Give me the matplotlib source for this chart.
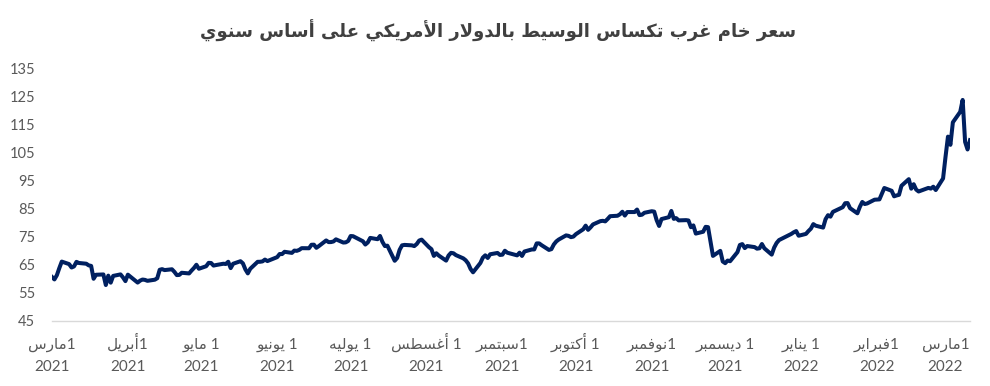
import pandas as pd
import matplotlib
matplotlib.use("Agg")
import matplotlib.pyplot as plt

# WTI daily close, USD/barrel
mar21 = [60.67, 59.79, 61.30, 63.83, 66.13, 65.24, 64.03, 64.41, 66.03, 65.64, 65.38, 64.79,
         64.60, 60.02, 61.45, 61.56, 57.79, 61.14, 58.64, 61.04, 61.58, 60.51, 59.19]
apr21 = [61.49, 58.66, 59.36, 59.75, 59.62, 59.29, 59.69, 60.21, 63.22, 63.45, 63.11, 63.40,
         62.49, 61.33, 61.39, 62.16, 61.92, 62.94, 63.86, 65.01, 63.58]
may21 = [64.49, 65.69, 65.63, 64.71, 64.90, 65.37, 65.28, 66.08, 63.82, 65.37, 66.27, 65.49,
         63.36, 61.94, 63.58, 66.05, 66.07, 66.21, 66.85, 66.32]
jun21 = [67.72, 68.83, 68.81, 69.62, 69.23, 70.05, 69.96, 70.29, 70.91, 70.88, 72.12, 72.15,
         71.04, 71.64, 73.66, 73.06, 73.08, 73.30, 74.05, 72.91, 72.98, 73.47]
jul21 = [75.23, 75.16, 73.37, 72.20, 72.94, 74.56, 74.10, 75.25, 73.13, 71.65, 71.81, 66.42,
         67.42, 70.30, 71.91, 72.07, 71.91, 71.65, 72.39, 73.62, 73.95]
aug21 = [71.26, 70.56, 68.15, 69.09, 68.28, 66.48, 68.29, 69.25, 69.09, 68.44, 67.29, 66.59,
         65.46, 63.50, 62.32, 65.64, 67.54, 68.36, 67.42, 68.74, 69.21, 68.50]
sep21 = [68.59, 69.99, 69.29, 68.35, 69.30, 68.14, 69.72, 70.45, 70.46, 72.61, 72.61, 71.97,
         70.29, 70.56, 72.23, 73.30, 73.98, 75.45, 75.29, 74.83, 75.03]
oct21 = [75.88, 77.62, 78.93, 77.43, 78.30, 79.35, 80.52, 80.64, 80.44, 81.31, 82.28, 82.44,
         82.96, 83.87, 82.50, 83.76, 83.76, 84.65, 82.66, 82.81, 83.50]
nov21 = [84.05, 83.91, 80.86, 78.81, 81.27, 81.93, 84.15, 81.34, 81.59, 80.79, 80.88, 80.76,
         78.36, 79.01, 76.10, 76.75, 78.50, 78.39, 68.15, 69.95, 66.18]
dec21 = [65.57, 66.50, 66.26, 69.49, 72.05, 72.36, 70.94, 71.67, 71.29, 70.73, 70.87, 72.38,
         70.86, 68.61, 71.12, 72.76, 73.79, 75.57, 75.98, 76.56, 76.99, 75.33]
jan22 = [75.99, 76.99, 77.85, 79.46, 78.90, 78.23, 81.22, 82.64, 82.12, 83.82, 85.48, 86.90,
         86.96, 85.14, 83.31, 85.60, 87.35, 86.61, 86.82, 88.15]
feb22 = [88.20, 88.26, 90.27, 92.31, 91.32, 89.36, 89.66, 89.88, 93.10, 95.46, 92.07, 93.66,
         91.76, 91.07, 92.35, 92.10, 92.77, 91.59, 95.72]
mar22 = [103.41, 110.60, 107.67, 115.68, 119.40, 123.64, 108.70, 106.02, 109.33]

holidays = ["2021-04-02", "2021-05-31", "2021-07-05", "2021-09-06", "2021-11-25",
            "2021-12-24", "2022-01-17", "2022-02-21"]

title = "سعر خام غرب تكساس الوسيط بالدولار الأمريكي على أساس سنوي"
month_names = ["مارس", "أبريل", "مايو", "يونيو", "يوليه", "أغسطس", "سبتمبر",
               "أكتوبر", "نوفمبر", "ديسمبر", "يناير", "فبراير", "مارس"]
month_sep = ["", "", " ", " ", " ", " ", "", " ", "", " ", " ", "", ""]
month_years = [2021] * 10 + [2022] * 3
yticks = list(range(45, 136, 10))

prices = mar21 + apr21 + may21 + jun21 + jul21 + aug21 + sep21 + oct21 + nov21 + dec21 + jan22 + feb22 + mar22
dates = pd.bdate_range("2021-03-01", "2022-03-11").drop(pd.to_datetime(holidays))

# --- minimal Arabic shaping (matplotlib does no shaping / bidi) ---
FORMS = {
    'ا': (0xFE8D, 0xFE8E, None, None), 'أ': (0xFE83, 0xFE84, None, None),
    'ب': (0xFE8F, 0xFE90, 0xFE91, 0xFE92), 'ت': (0xFE95, 0xFE96, 0xFE97, 0xFE98),
    'خ': (0xFEA5, 0xFEA6, 0xFEA7, 0xFEA8), 'د': (0xFEA9, 0xFEAA, None, None),
    'ر': (0xFEAD, 0xFEAE, None, None), 'س': (0xFEB1, 0xFEB2, 0xFEB3, 0xFEB4),
    'ط': (0xFEC1, 0xFEC2, 0xFEC3, 0xFEC4), 'ع': (0xFEC9, 0xFECA, 0xFECB, 0xFECC),
    'غ': (0xFECD, 0xFECE, 0xFECF, 0xFED0), 'ف': (0xFED1, 0xFED2, 0xFED3, 0xFED4),
    'ك': (0xFED9, 0xFEDA, 0xFEDB, 0xFEDC), 'ل': (0xFEDD, 0xFEDE, 0xFEDF, 0xFEE0),
    'م': (0xFEE1, 0xFEE2, 0xFEE3, 0xFEE4), 'ن': (0xFEE5, 0xFEE6, 0xFEE7, 0xFEE8),
    'ه': (0xFEE9, 0xFEEA, 0xFEEB, 0xFEEC), 'و': (0xFEED, 0xFEEE, None, None),
    'ى': (0xFEEF, 0xFEF0, None, None), 'ي': (0xFEF1, 0xFEF2, 0xFEF3, 0xFEF4),
}
LAM_ALEF = {'ا': (0xFEFB, 0xFEFC, None, None), 'أ': (0xFEF7, 0xFEF8, None, None)}


def shape_word(w):
    units = []
    i = 0
    while i < len(w):
        if w[i] == 'ل' and i + 1 < len(w) and w[i + 1] in LAM_ALEF:
            units.append(LAM_ALEF[w[i + 1]])
            i += 2
        else:
            units.append(FORMS[w[i]])
            i += 1
    out = []
    for k, f in enumerate(units):
        prev = k > 0 and units[k - 1][2] is not None
        nxt = f[2] is not None and k + 1 < len(units)
        if prev and nxt:
            c = f[3]
        elif prev:
            c = f[1]
        elif nxt:
            c = f[2]
        else:
            c = f[0]
        out.append(chr(c))
    return "".join(out[::-1])


def rtl(text):
    words = []
    for word in text.split(" "):
        runs, cur, is_ar = [], "", None
        for ch in word:
            a = ch in FORMS
            if cur and a != is_ar:
                runs.append((cur, is_ar))
                cur = ""
            cur += ch
            is_ar = a
        if cur:
            runs.append((cur, is_ar))
        words.append("".join(shape_word(r) if a else r for r, a in runs[::-1]))
    return " ".join(words[::-1])


fig = plt.figure(figsize=(9.9, 3.86), dpi=100)
ax = fig.add_axes([0.0525, 0.1684, 0.9273, 0.6554])

ax.plot(dates, prices, color="#002060", linewidth=2.9, solid_joinstyle="round")

# months on major ticks, years on minor ticks at the same spots
tick_dates = pd.date_range("2021-03-01", "2022-03-01", freq="MS")
ax.xaxis.remove_overlapping_locs = False
ax.set_xticks(tick_dates)
ax.set_xticklabels([rtl("1" + s + m) for m, s in zip(month_names, month_sep)],
                   family=["Lato", "DejaVu Sans"], fontsize=11, color="#595959", va="baseline")
ax.set_xticks(tick_dates, minor=True)
ax.set_xticklabels([str(y) for y in month_years], minor=True,
                   family=["Lato", "DejaVu Sans"], fontsize=11, color="#595959", va="baseline")
ax.set_xlim(dates[0], dates[-1])

ax.set_ylim(45, 135)
ax.set_yticks(yticks)
ax.set_yticklabels([str(v) for v in yticks], family=["Lato", "DejaVu Sans"], fontsize=10.5, color="#595959")
ax.tick_params(axis="both", which="both", length=0)
ax.tick_params(axis="y", pad=12)
ax.tick_params(axis="x", which="major", pad=20)
ax.tick_params(axis="x", which="minor", pad=36)

for s in ["top", "right", "left"]:
    ax.spines[s].set_visible(False)
ax.spines["bottom"].set_color("#d9d9d9")
ax.spines["bottom"].set_linewidth(1)

fig.text(0.503, 1 - 31 / 386, rtl(title), ha="center", va="center", fontsize=13,
         fontweight="bold", color="#404040", family=["DejaVu Sans"])

fig.savefig("out.png", dpi=100)
